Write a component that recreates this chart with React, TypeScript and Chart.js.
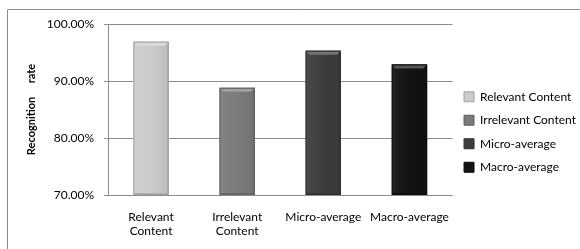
import React, { useEffect, useRef } from "react";
import { Chart, registerables } from "chart.js";

Chart.register(...registerables);

const categories: string[][] = [
  ["Relevant", "Content"],
  ["Irrelevant", "Content"],
  ["Micro-average"],
  ["Macro-average"],
];
const legendNames = ["Relevant Content", "Irrelevant Content", "Micro-average", "Macro-average"];
const recognitionRate = [96.9, 88.8, 95.3, 92.9];
const barColors = ["#cbcbcb", "#7b7b7b", "#3d3d3d", "#121212"];
const yTicks = { min: 70, max: 100, step: 10 };
const yTitle = "Recognition     rate";

const FONT = "Lato, 'Open Sans', sans-serif";
const CANVAS_W = 586;

function shade(hex: string, amt: number): string {
  const n = parseInt(hex.slice(1), 16);
  const r = (n >> 16) & 255, g = (n >> 8) & 255, b = n & 255;
  const f = (c: number) => Math.max(0, Math.min(255, Math.round(amt >= 0 ? c + (255 - c) * amt : c * (1 + amt))));
  return `rgb(${f(r)},${f(g)},${f(b)})`;
}

const framePlugin = {
  id: "frame",
  beforeDraw(chart: any) {
    const ctx = chart.ctx;
    ctx.save();
    ctx.fillStyle = "#fff";
    ctx.fillRect(0, 0, chart.width, chart.height);
    ctx.strokeStyle = "#8c8c8c";
    ctx.lineWidth = 1;
    ctx.beginPath();
    ctx.moveTo(7.5, chart.height + 2);
    ctx.lineTo(7.5, 9.5);
    ctx.lineTo(chart.width + 2, 9.5);
    ctx.stroke();
    ctx.restore();
  },
};

const bevelPlugin = {
  id: "bevel",
  afterDatasetsDraw(chart: any) {
    const ctx = chart.ctx;
    const area = chart.chartArea;
    const meta = chart.getDatasetMeta(0);
    ctx.save();
    ctx.beginPath();
    ctx.rect(area.left, area.top, area.right - area.left, area.bottom - area.top);
    ctx.clip();
    meta.data.forEach((el: any, i: number) => {
      const p = el.getProps(["x", "y", "base", "width"], true);
      const x = p.x, y = p.y, width = p.width;
      const base = Math.min(p.base, area.bottom);
      const l = x - width / 2, r = x + width / 2;
      const c = barColors[i];
      const g = ctx.createLinearGradient(l, 0, r, 0);
      g.addColorStop(0, shade(c, 0.12));
      g.addColorStop(0.08, shade(c, 0.05));
      g.addColorStop(0.5, c);
      g.addColorStop(0.92, shade(c, -0.06));
      g.addColorStop(1, shade(c, -0.18));
      ctx.fillStyle = g;
      ctx.fillRect(l, y, width, base - y);
      const bh = 4;
      ctx.fillStyle = shade(c, 0.28);
      ctx.beginPath();
      ctx.moveTo(l, y);
      ctx.lineTo(r, y);
      ctx.lineTo(r - bh, y + bh);
      ctx.lineTo(l + bh, y + bh);
      ctx.closePath();
      ctx.fill();
      ctx.fillStyle = shade(c, -0.15);
      ctx.beginPath();
      ctx.moveTo(l, base);
      ctx.lineTo(r, base);
      ctx.lineTo(r - 2, base - 2);
      ctx.lineTo(l + 2, base - 2);
      ctx.closePath();
      ctx.fill();
      ctx.strokeStyle = shade(c, -0.2);
      ctx.lineWidth = 1;
      ctx.strokeRect(l + 0.5, y + 0.5, width - 1, base - y - 1);
    });
    ctx.restore();
  },
};

export default function App() {
  const ref = useRef<HTMLCanvasElement | null>(null);
  useEffect(() => {
    if (!ref.current) return;
    const chart = new Chart(ref.current, {
      type: "bar",
      data: {
        labels: categories,
        datasets: [
          {
            label: "Recognition rate",
            data: recognitionRate,
            backgroundColor: barColors,
            borderWidth: 0,
            categoryPercentage: 1,
            barPercentage: 0.41,
          },
        ],
      },
      options: {
        animation: false,
        responsive: false,
        devicePixelRatio: 1,
        layout: { padding: { top: 24, right: 0, bottom: 9, left: 0 } },
        plugins: {
          tooltip: { enabled: false },
          legend: {
            position: "right",
            align: "center",
            labels: {
              font: { family: FONT, size: 12 },
              color: "#000",
              boxWidth: 10,
              boxHeight: 10,
              padding: 11.5,
              generateLabels: () =>
                legendNames.map((t, i) => ({
                  text: t,
                  fillStyle: barColors[i],
                  strokeStyle: shade(barColors[i], -0.2),
                  lineWidth: 1,
                  hidden: false,
                  index: i,
                  datasetIndex: 0,
                })),
            },
          },
        },
        scales: {
          x: {
            grid: { display: true, drawOnChartArea: false, drawTicks: false },
            border: { display: true, color: "#8c8c8c" },
            ticks: { font: { family: FONT, size: 12 }, color: "#000", padding: 15, maxRotation: 0, autoSkip: false },
            afterFit: (s: any) => { s.height = 45; },
          },
          y: {
            min: yTicks.min,
            max: yTicks.max,
            grid: { color: "#8c8c8c", tickLength: 4 },
            border: { display: true, color: "#8c8c8c" },
            ticks: {
              stepSize: yTicks.step,
              padding: 10,
              font: { family: FONT, size: 12 },
              color: "#000",
              callback: (v: any) => Number(v).toFixed(2) + "%",
            },
            title: {
              display: true,
              text: yTitle,
              font: { family: FONT, size: 11, weight: "bold" },
              color: "#000",
              padding: { top: 25, bottom: 0 },
            },
            afterFit: (s: any) => { s.width = 108; },
          },
        },
      },
      plugins: [framePlugin, bevelPlugin],
    } as any);
    return () => chart.destroy();
  }, []);
  return (
    <div style={{ position: "fixed", left: 0, top: 0, width: 580, height: 249, overflow: "hidden", background: "#fff" }}>
      <canvas ref={ref} width={CANVAS_W} height={249} style={{ display: "block", width: CANVAS_W, height: 249 }} />
    </div>
  );
}
